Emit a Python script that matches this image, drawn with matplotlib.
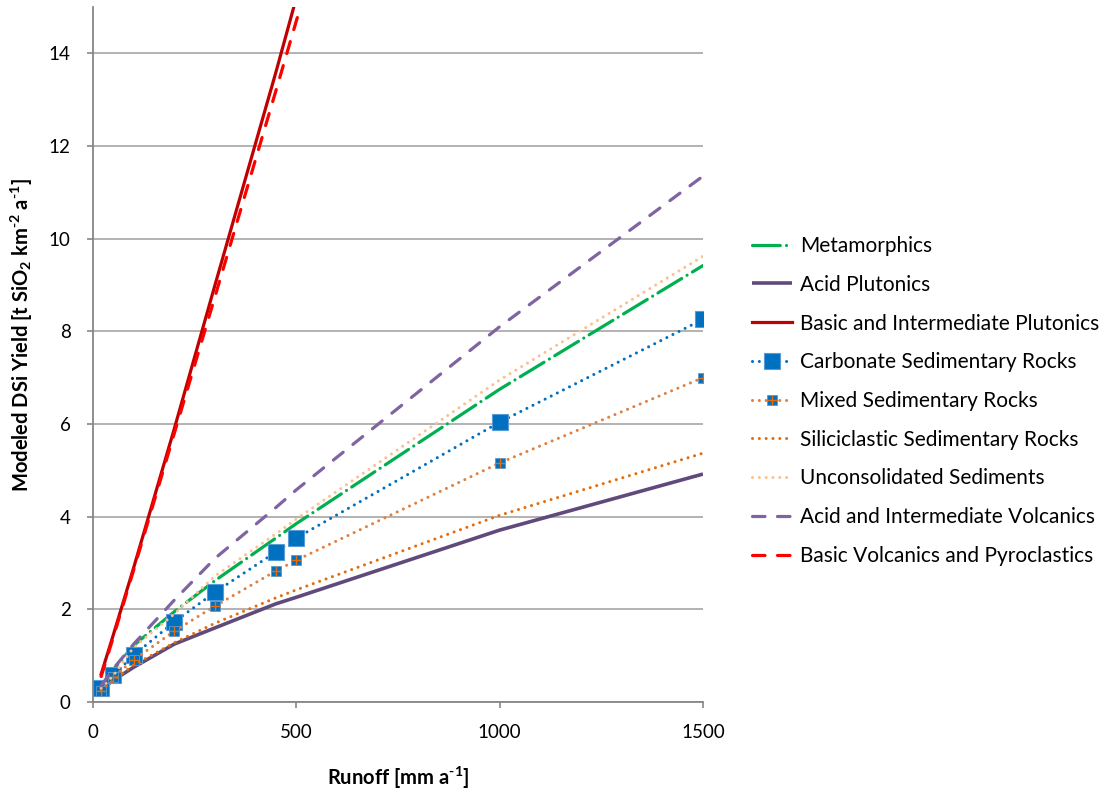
import numpy as np
import matplotlib
matplotlib.use("Agg")
import matplotlib.pyplot as plt

plt.rcParams['font.family'] = ['Lato', 'DejaVu Sans']
plt.rcParams['mathtext.default'] = 'regular'
plt.rcParams['lines.scale_dashes'] = False

# runoff values (mm/a)
runoff = [20, 50, 100, 200, 300, 450, 500, 1000, 1500]

metamorphics = [0.33, 0.70, 1.22, 1.95, 2.62, 3.54, 3.85, 6.75, 9.42]
acid_plutonics = [0.27, 0.47, 0.75, 1.25, 1.60, 2.12, 2.26, 3.71, 4.92]
basic_plutonics = [0.60, 1.45, 2.90, 5.90, 9.00, 13.6, 15.2, 30.5, 45.5]
carbonate = [0.30, 0.58, 1.01, 1.73, 2.37, 3.24, 3.54, 6.04, 8.26]
mixed = [0.24, 0.54, 0.91, 1.53, 2.07, 2.83, 3.06, 5.16, 7.00]
siliciclastic = [0.25, 0.47, 0.80, 1.28, 1.70, 2.25, 2.42, 4.03, 5.37]
unconsolidated = [0.30, 0.57, 1.18, 1.90, 2.72, 3.63, 3.95, 6.95, 9.62]
acid_volcanics = [0.35, 0.72, 1.25, 2.20, 3.10, 4.20, 4.58, 8.10, 11.35]
basic_volcanics = [0.55, 1.40, 2.85, 5.80, 8.75, 13.2, 14.7, 29.5, 44.0]

labels = ["Metamorphics", "Acid Plutonics", "Basic and Intermediate Plutonics",
          "Carbonate Sedimentary Rocks", "Mixed Sedimentary Rocks",
          "Siliciclastic Sedimentary Rocks", "Unconsolidated Sediments",
          "Acid and Intermediate Volcanics", "Basic Volcanics and Pyroclastics"]

dot = (0, (0.01, 4.9))
dash = (0, (9, 9))

fig = plt.figure(figsize=(11.13, 7.93), dpi=100)
ax = fig.add_axes([93/1113, 1-702/793, 610/1113, 695/793])

h = []
h.append(ax.plot(runoff, metamorphics, color="#00B050", lw=2.3, linestyle=(0, (20, 4.5, 0.01, 4.5)),
                 dash_capstyle="round")[0])
h.append(ax.plot(runoff, acid_plutonics, color="#604A7B", lw=2.6, solid_capstyle="butt")[0])
h.append(ax.plot(runoff, basic_plutonics, color="#C00000", lw=2.3)[0])
h.append(ax.plot(runoff, carbonate, color="#0070C0", lw=2.2, linestyle=dot, dash_capstyle="round",
                 marker="s", markersize=11, markerfacecolor="#0070C0",
                 markeredgecolor="#5B9BD5", markeredgewidth=0.8)[0])
l_mix = ax.plot(runoff, mixed, color="#E0803F", lw=2.2, linestyle=dot, dash_capstyle="round",
                marker="s", markersize=6.5, markerfacecolor="#0070C0",
                markeredgecolor="#5B9BD5", markeredgewidth=0.6)[0]
l_plus = ax.plot(runoff, mixed, linestyle="none", marker="+", markersize=6.5,
                 markeredgecolor="#E46C0A", markeredgewidth=1.0)[0]
h.append((l_mix, l_plus))
h.append(ax.plot(runoff, siliciclastic, color="#E46C0A", lw=2.2, linestyle=dot, dash_capstyle="round")[0])
h.append(ax.plot(runoff, unconsolidated, color="#FAC090", lw=2.2, linestyle=dot, dash_capstyle="round")[0])
h.append(ax.plot(runoff, acid_volcanics, color="#8064A2", lw=2.3, linestyle=dash, dash_capstyle="round")[0])
h.append(ax.plot(runoff, basic_volcanics, color="#FF0000", lw=2.3, linestyle=dash, dash_capstyle="round")[0])

ax.set_xlim(0, 1500)
ax.set_ylim(0, 15)
ax.set_xticks([0, 500, 1000, 1500])
ax.set_yticks(range(0, 15, 2))
ax.yaxis.grid(True, color="#A6A6A6", lw=1.2)
ax.set_axisbelow(True)
for s in ["top", "right"]:
    ax.spines[s].set_visible(False)
for s in ["left", "bottom"]:
    ax.spines[s].set_color("#868686")
    ax.spines[s].set_linewidth(1.3)
ax.tick_params(axis="both", direction="out", length=4, width=1.2, color="#868686",
               labelsize=13.5, labelcolor="black")
ax.tick_params(axis="x", pad=12)
ax.tick_params(axis="y", pad=12)

fig.text(398/1113, 1-778/793, "Runoff [mm a$^{\u2010 1}$]", ha="center", va="center",
         fontsize=14.5, fontweight="bold")
fig.text(22/1113, 1-335/793, "Modeled DSi Yield [t SiO$_2$ km$^{\u2010 2}$ a$^{\u2010 1}$]", ha="center",
         va="center", rotation=90, fontsize=14.5, fontweight="bold")

fig.legend(h, labels, loc="upper left", bbox_to_anchor=(752/1113, 1-236/793),
           frameon=False, fontsize=15, handlelength=1.92, handletextpad=0.38,
           labelspacing=0.9, borderpad=0, borderaxespad=0)

fig.savefig("out.png", dpi=100)
